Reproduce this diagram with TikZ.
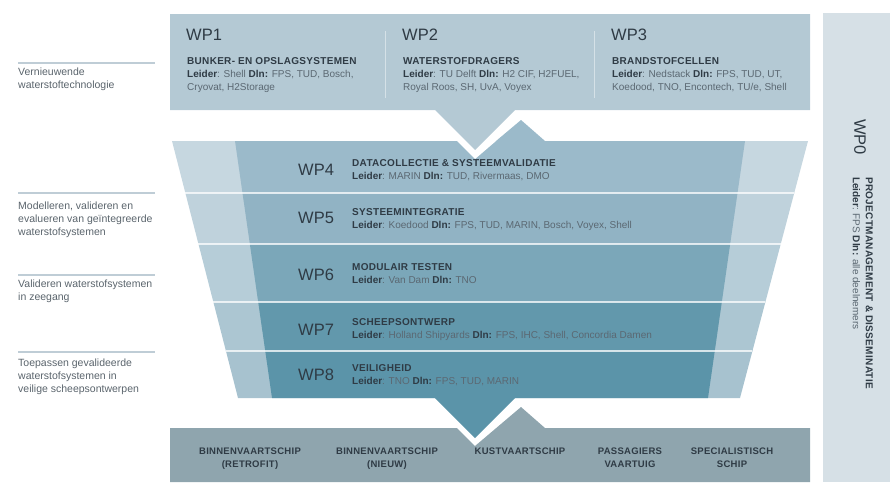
\documentclass[tikz,border=0pt]{standalone}
\usepackage{fontspec}
\setmainfont{Liberation Sans}
\newfontfamily\capsfont[LetterSpace=3]{Liberation Sans}
\usetikzlibrary{calc}
\definecolor{wptop}{HTML}{B4C9D4}
\definecolor{wpzero}{HTML}{D6E0E6}
\definecolor{wpship}{HTML}{8FA5AE}
\definecolor{out4}{HTML}{C6D7E0}
\definecolor{out5}{HTML}{BFD2DC}
\definecolor{out6}{HTML}{B6CDD8}
\definecolor{out7}{HTML}{ACC6D2}
\definecolor{out8}{HTML}{A7C2CF}
\definecolor{in4}{HTML}{9BBACA}
\definecolor{in5}{HTML}{91B3C4}
\definecolor{in6}{HTML}{7BA7B9}
\definecolor{in7}{HTML}{6298AC}
\definecolor{in8}{HTML}{5B94A9}
\definecolor{txtdark}{HTML}{2F3B45}
\definecolor{txtgrey}{HTML}{5B6872}
\definecolor{sidegrey}{HTML}{5A646C}
\definecolor{sideblue}{HTML}{BFCDD6}
\newcommand{\leadtxt}[1]{\textcolor{txtdark}{\textbf{#1}}}
\newcommand{\wptitle}[1]{{\capsfont\bfseries\color{txtdark}#1}}
\begin{document}
\begin{tikzpicture}[x=1pt,y=-1pt,
  wplabel/.style={anchor=west,inner sep=0pt,text=txtdark,font=\fontsize{16.5}{20}\selectfont},
  infotext/.style={anchor=north west,inner sep=0pt,align=left,text=txtgrey,font=\fontsize{10}{13}\selectfont},
  sidetext/.style={anchor=north west,inner sep=0pt,align=left,text=sidegrey,font=\fontsize{10.5}{13}\selectfont},
  shiptext/.style={anchor=north,inner sep=0pt,align=center,text=txtdark,font=\capsfont\bfseries\fontsize{9.5}{13}\selectfont},
  sideline/.style={draw=sideblue,line width=1.2pt},
  rowsep/.style={draw=white,line width=1.4pt,opacity=.75}]
  \useasboundingbox (0,0) rectangle (890,482);
  % WP0 column
  \fill[wpzero] (823,13) rectangle (890,482);
  % funnel, row by row
  \coordinate (oTL) at (172,141); \coordinate (oBL) at (238,398);
  \coordinate (oTR) at (808,141); \coordinate (oBR) at (740,398);
  \coordinate (iTL) at (235,141); \coordinate (iBL) at (272,398);
  \coordinate (iTR) at (745,141); \coordinate (iBR) at (708,398);
  \foreach \ya/\yb/\oc/\ic in {141/193/out4/in4,193/244/out5/in5,244/302/out6/in6,302/351/out7/in7,351/398/out8/in8}{
    \fill[\oc] ($(oTL)!{(\ya-141)/257}!(oBL)$) -- ($(oTR)!{(\ya-141)/257}!(oBR)$)
      -- ($(oTR)!{(\yb-141)/257}!(oBR)$) -- ($(oTL)!{(\yb-141)/257}!(oBL)$) -- cycle;
    \fill[\ic] ($(iTL)!{(\ya-141)/257}!(iBL)$) -- ($(iTR)!{(\ya-141)/257}!(iBR)$)
      -- ($(iTR)!{(\yb-141)/257}!(iBR)$) -- ($(iTL)!{(\yb-141)/257}!(iBL)$) -- cycle;
  }
  \foreach \y in {193,244,302,351}
    \draw[rowsep] ($(oTL)!{(\y-141)/257}!(oBL)$) -- ($(oTR)!{(\y-141)/257}!(oBR)$);
  % notch and peak at the funnel top
  \fill[white] (457,141) -- (475,159) -- (496,141) -- cycle;
  \fill[in4] (496,141) -- (521,120) -- (545,141) -- cycle;
  % top box with its arrow
  \fill[wptop] (170,14) -- (810,14) -- (810,110) -- (515,110) -- (475,150) -- (435,110) -- (170,110) -- cycle;
  \draw[white,opacity=.45,line width=1pt] (385,31) -- (385,98);
  \draw[white,opacity=.45,line width=1pt] (594,31) -- (594,98);
  % funnel arrow and ship types
  \fill[in8] (435,398) -- (475,438) -- (515,398) -- cycle;
  \fill[wpship] (170,428) -- (457,428) -- (475,446) -- (521,407) -- (545,428) -- (810,428) -- (810,482) -- (170,482) -- cycle;

  % left column
  \foreach \y in {63,193,275,352}
    \draw[sideline] (18,\y) -- (155,\y);
  \node[sidetext] (side1) at (18,68) {Vernieuwende\\waterstoftechnologie};
  \node[sidetext] (side2) at (18,201.5) {Modelleren, valideren en\\evalueren van geïntegreerde\\waterstofsystemen};
  \node[sidetext] (side3) at (18,280) {Valideren waterstofsystemen\\in zeegang};
  \node[sidetext] (side4) at (18,358.5) {Toepassen gevalideerde\\waterstofsystemen in\\veilige scheepsontwerpen};

  % WP1 - WP3
  \node[wplabel] (wp1) at (186,35) {WP1};
  \node[infotext] (wp1info) at (187,57.4) {\wptitle{BUNKER- EN OPSLAGSYSTEMEN}\\\leadtxt{Leider}: Shell \leadtxt{Dln:} FPS, TUD, Bosch,\\Cryovat, H2Storage};
  \node[wplabel] (wp2) at (402,35) {WP2};
  \node[infotext] (wp2info) at (403,57.4) {\wptitle{WATERSTOFDRAGERS}\\\leadtxt{Leider}: TU Delft \leadtxt{Dln:} H2 CIF, H2FUEL,\\Royal Roos, SH, UvA, Voyex};
  \node[wplabel] (wp3) at (611,35) {WP3};
  \node[infotext] (wp3info) at (612,57.4) {\wptitle{BRANDSTOFCELLEN}\\\leadtxt{Leider}: Nedstack \leadtxt{Dln:} FPS, TUD, UT,\\Koedood, TNO, Encontech, TU/e, Shell};

  % WP4 - WP8
  \node[wplabel] (wp4) at (298,170) {WP4};
  \node[infotext] (wp4info) at (352,159.4) {\wptitle{DATACOLLECTIE \& SYSTEEMVALIDATIE}\\\leadtxt{Leider}: MARIN \leadtxt{Dln:} TUD, Rivermaas, DMO};
  \node[wplabel] (wp5) at (298,218) {WP5};
  \node[infotext] (wp5info) at (352,208.4) {\wptitle{SYSTEEMINTEGRATIE}\\\leadtxt{Leider}: Koedood \leadtxt{Dln:} FPS, TUD, MARIN, Bosch, Voyex, Shell};
  \node[wplabel] (wp6) at (298,275) {WP6};
  \node[infotext] (wp6info) at (352,263.4) {\wptitle{MODULAIR TESTEN}\\\leadtxt{Leider}: Van Dam \leadtxt{Dln:} TNO};
  \node[wplabel] (wp7) at (298,330) {WP7};
  \node[infotext] (wp7info) at (352,318.4) {\wptitle{SCHEEPSONTWERP}\\\leadtxt{Leider}: Holland Shipyards \leadtxt{Dln:} FPS, IHC, Shell, Concordia Damen};
  \node[wplabel] (wp8) at (298,375) {WP8};
  \node[infotext] (wp8info) at (352,364.4) {\wptitle{VEILIGHEID}\\\leadtxt{Leider}: TNO \leadtxt{Dln:} FPS, TUD, MARIN};

  % WP0
  \node[wplabel,anchor=center,rotate=-90] (wp0) at (860,137) {WP0};
  \node[infotext,rotate=-90] (wp0info) at (873,177) {\wptitle{PROJECTMANAGEMENT \& DISSEMINATIE}\\\leadtxt{Leider}: FPS \leadtxt{Dln:} alle deelnemers};

  % ship types
  \node[shiptext] (ship1) at (250,447.6) {BINNENVAARTSCHIP\\(RETROFIT)};
  \node[shiptext] (ship2) at (387,447.6) {BINNENVAARTSCHIP\\(NIEUW)};
  \node[shiptext] (ship3) at (520,447.6) {KUSTVAARTSCHIP};
  \node[shiptext] (ship4) at (630,447.6) {PASSAGIERS\\VAARTUIG};
  \node[shiptext] (ship5) at (732,447.6) {SPECIALISTISCH\\SCHIP};
\end{tikzpicture}
\end{document}
